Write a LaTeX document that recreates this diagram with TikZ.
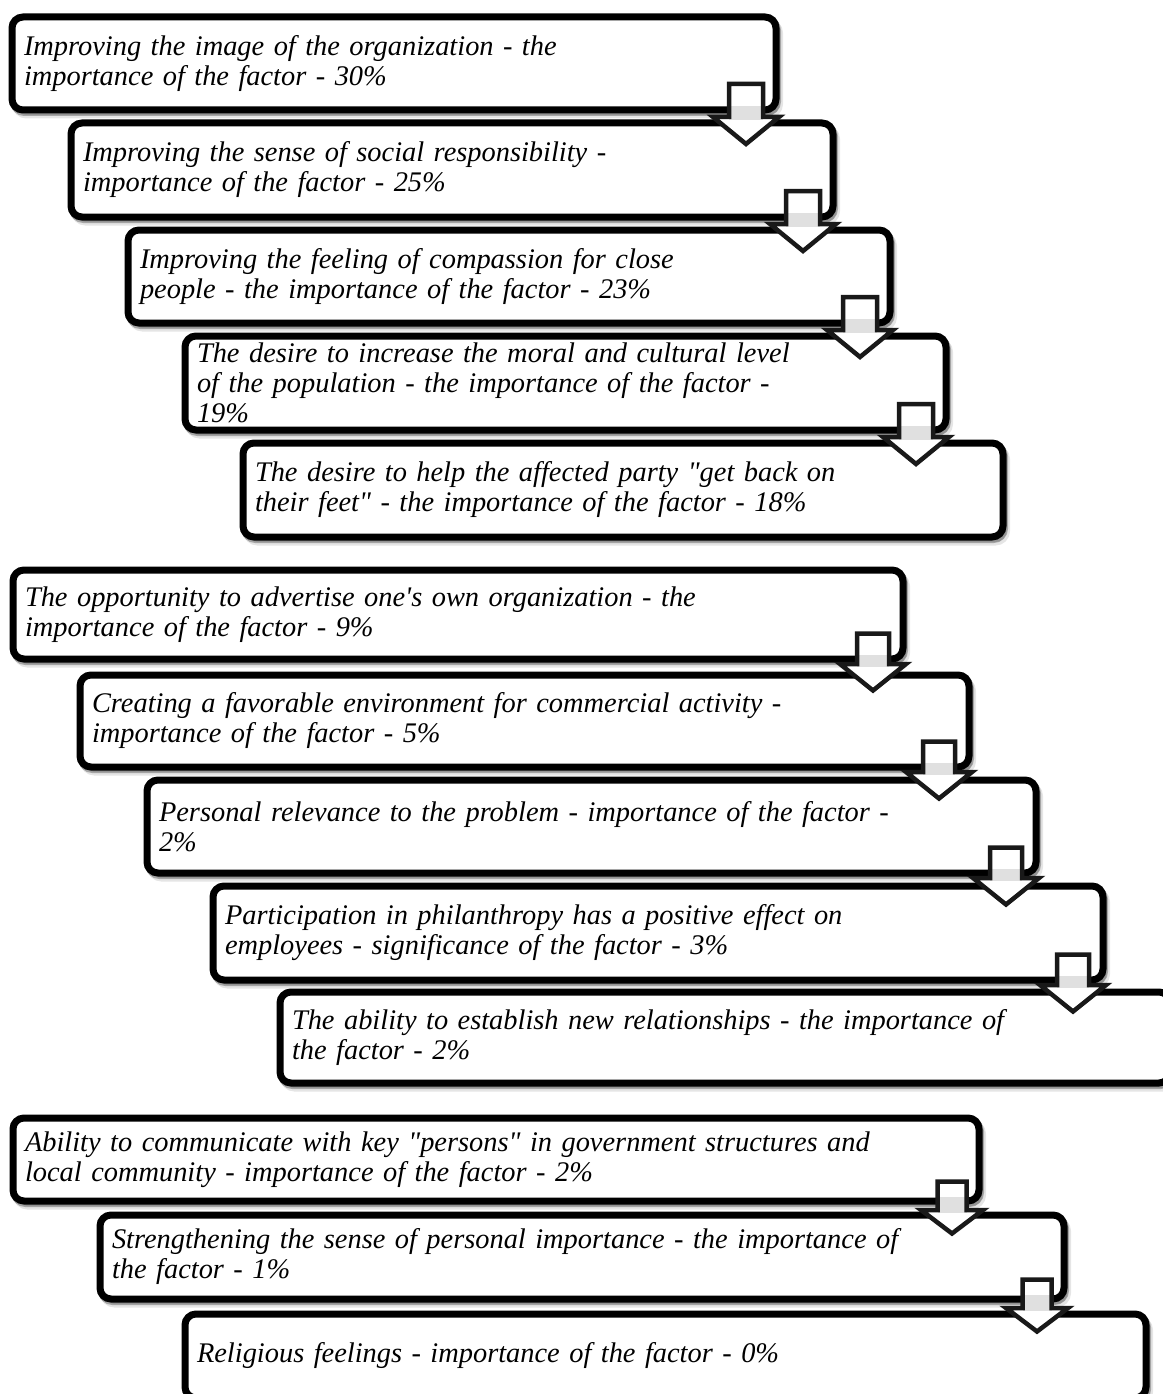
\documentclass[tikz,border=0pt]{standalone}
\usepackage{fontspec}
\setmainfont{Liberation Serif}[Ligatures=TeXOff]
\usetikzlibrary{calc,shadows}

\tikzset{
  x=1pt, y=-1pt,
  factor/.style={
    draw=black, fill=white, line width=7pt, rounded corners=11pt,
    outer sep=0pt, inner xsep=12pt, inner ysep=0pt,
    align=left, anchor=north west,
    font=\itshape\fontsize{28.4}{30}\selectfont,
    drop shadow={shadow xshift=3.5pt, shadow yshift=-5pt, opacity=0.10,
                 fill=black, draw=black, line width=7pt},
    drop shadow={shadow xshift=1.5pt, shadow yshift=-2.5pt, opacity=0.28,
                 fill=black, draw=black, line width=7pt}},
  arrowfill/.style={fill=white},
  arrowband/.style={fill=black!12},
  arrowline/.style={draw=black!90, line width=4.5pt, line join=miter},
}

% factor box: name, left, top, right, bottom, text
\newcommand\factorbox[6]{%
  \pgfmathsetmacro\fbw{#4-#2}%
  \pgfmathsetmacro\fbh{#5-#3}%
  \pgfmathsetmacro\fbt{#4-#2-24}%
  \node[factor, minimum width=\fbw pt, minimum height=\fbh pt,
        text width=\fbt pt] (#1) at (#2,#3) {#6};}

% outline of a down-pointing block arrow starting at its top centre
\newcommand\arrowoutline[5]{% top, shaft len, head len, shaft half, head half
  (#1) ++(-#4,0) -- ++(2*#4,0) -- ++(0,#2) -- ++(#5-#4,0)
  -- ++(-#5,#3) -- ++(-#5,-#3) -- ++(#5-#4,0) -- cycle}

% block arrow hanging from the lower right corner of a box
% upper node, inset, rise, shaft len, head len, shaft half, head half, name
\newcommand\flowarrow[8]{%
  \coordinate (#8) at ($(#1.south east)+(-#2,-#3)$);
  \fill[arrowfill] \arrowoutline{#8}{#4}{#5}{#6}{#7};
  \fill[arrowband] ($(#8)+(-#6,#3-4)$) rectangle ($(#8)+(#6,#4+3)$);
  \draw[arrowline] \arrowoutline{#8}{#4}{#5}{#6}{#7};}

\begin{document}
\begin{tikzpicture}
\useasboundingbox[fill=white] (0,0) rectangle (1162,1394);

% first group
\factorbox{f1}{12}{17}{776}{110}{Improving the image of the organization - the\\importance of the factor - 30\%}
\factorbox{f2}{71}{123}{833}{217}{Improving the sense of social responsibility -\\importance of the factor - 25\%}
\factorbox{f3}{128}{230}{890}{323}{Improving the feeling of compassion for close\\people - the importance of the factor - 23\%}
\factorbox{f4}{185}{336}{946}{430}{The desire to increase the moral and cultural level\\of the population - the importance of the factor -\\19\%}
\factorbox{f5}{243}{443}{1003}{537}{The desire to help the affected party "get back on\\their feet" - the importance of the factor - 18\%}

% second group
\factorbox{f6}{13}{570}{903}{659}{The opportunity to advertise one's own organization - the\\importance of the factor - 9\%}
\factorbox{f7}{80}{675}{969}{767}{Creating a favorable environment for commercial activity -\\importance of the factor - 5\%}
\factorbox{f8}{147}{780}{1036}{873}{Personal relevance to the problem - importance of the factor -\\2\%}
\factorbox{f9}{213}{886}{1103}{980}{Participation in philanthropy has a positive effect on\\employees - significance of the factor - 3\%}
\factorbox{f10}{280}{992}{1170}{1083}{The ability to establish new relationships - the importance of\\the factor - 2\%}

% third group
\factorbox{f11}{13}{1118}{979}{1201}{Ability to communicate with key "persons" in government structures and\\local community - importance of the factor - 2\%}
\factorbox{f12}{100}{1215}{1064}{1299}{Strengthening the sense of personal importance - the importance of\\the factor - 1\%}
\factorbox{f13}{185}{1314}{1146}{1398}{Religious feelings - importance of the factor - 0\%}

% connecting arrows
\flowarrow{f1}{30}{26}{33}{27}{17}{33}{a1}
\flowarrow{f2}{30}{26}{33}{27}{17}{33}{a2}
\flowarrow{f3}{30}{26}{33}{27}{17}{33}{a3}
\flowarrow{f4}{30}{26}{33}{27}{17}{33}{a4}

\flowarrow{f6}{30}{25.5}{30.5}{26.5}{16}{33}{a6}
\flowarrow{f7}{30}{25.5}{30.5}{26.5}{16}{33}{a7}
\flowarrow{f8}{30}{25.5}{30.5}{26.5}{16}{33}{a8}
\flowarrow{f9}{30}{25.5}{30.5}{26.5}{16}{33}{a9}

\flowarrow{f11}{27}{19.5}{28.5}{23.5}{14.5}{31}{a11}
\flowarrow{f12}{27}{19.5}{28.5}{23.5}{14.5}{31}{a12}
\end{tikzpicture}
\end{document}
